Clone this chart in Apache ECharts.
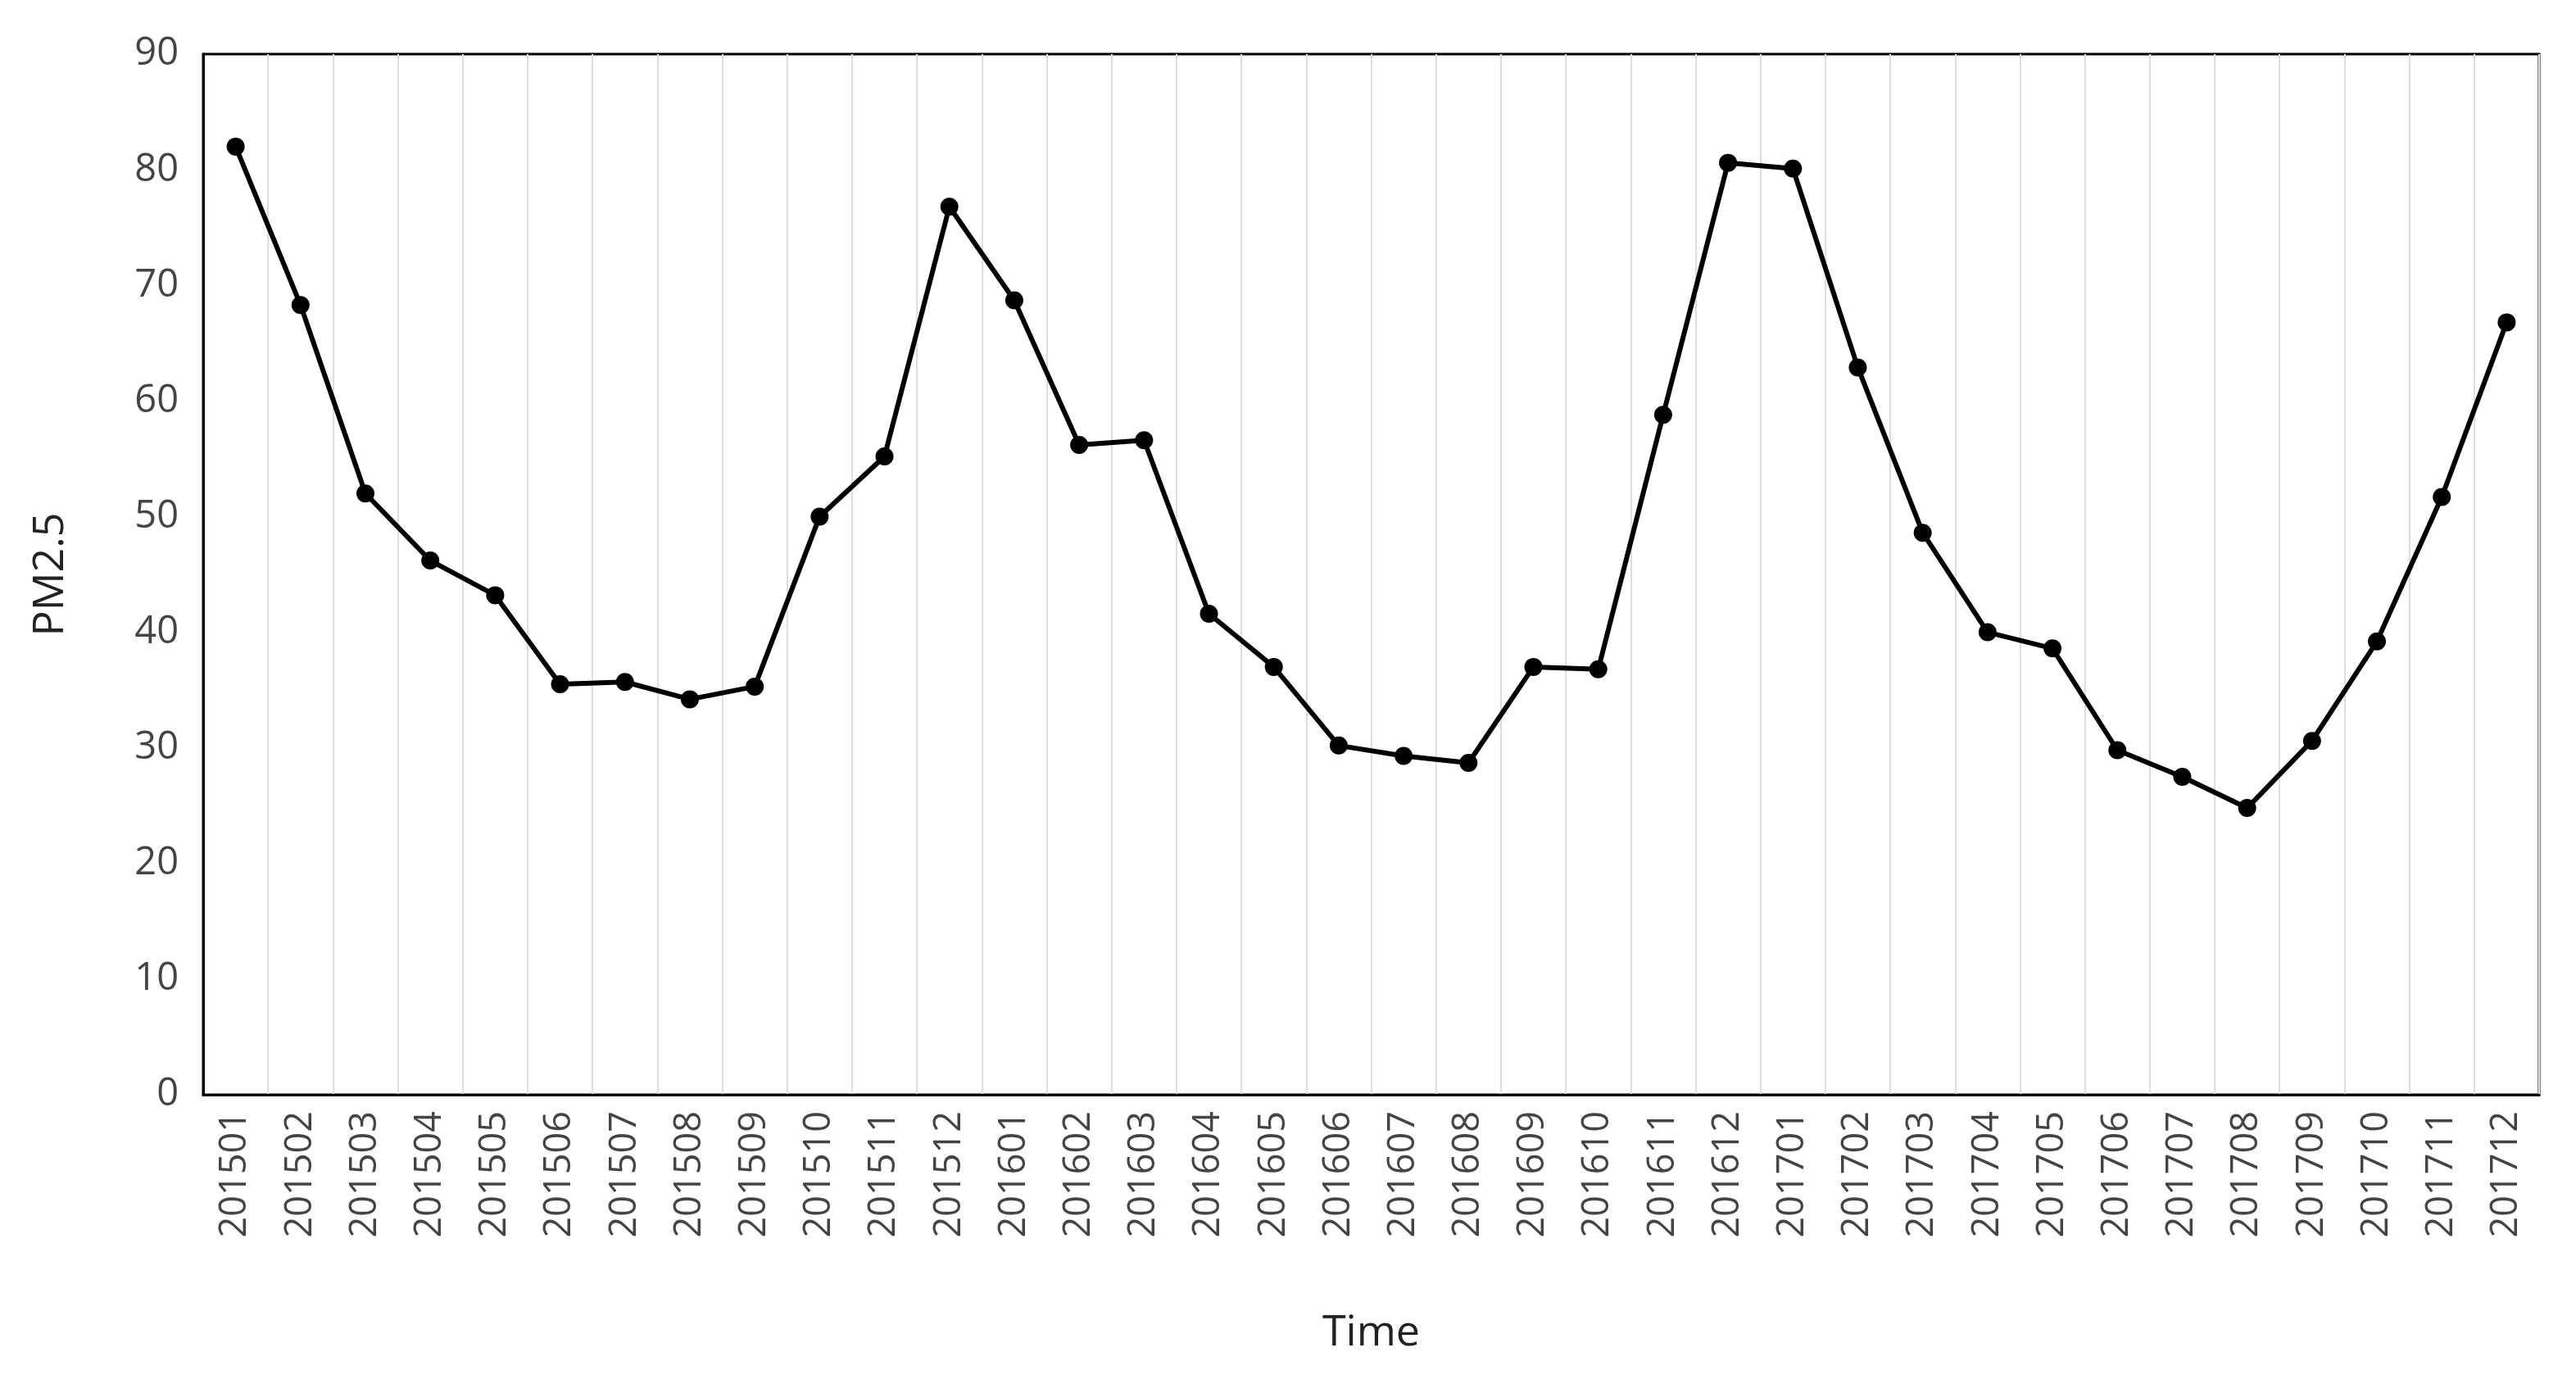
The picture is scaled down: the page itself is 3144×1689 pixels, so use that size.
<!DOCTYPE html>
<html><head><meta charset="utf-8">
<script src="https://cdn.jsdelivr.net/npm/echarts@6/dist/echarts.min.js"></script>
<style>html,body{margin:0;background:#fff}#c{width:3144px;height:1689px}</style>
</head><body><div id="c"></div>
<script>
const months = ['201501','201502','201503','201504','201505','201506','201507','201508','201509','201510','201511','201512',
  '201601','201602','201603','201604','201605','201606','201607','201608','201609','201610','201611','201612',
  '201701','201702','201703','201704','201705','201706','201707','201708','201709','201710','201711','201712'];
const pm25 = [82, 68.3, 52, 46.2, 43.2, 35.5, 35.7, 34.2, 35.3, 50, 55.2, 76.8,
  68.7, 56.2, 56.6, 41.6, 37, 30.2, 29.3, 28.7, 37, 36.8, 58.8, 80.6,
  80.1, 62.9, 48.6, 40, 38.6, 29.8, 27.5, 24.8, 30.6, 39.2, 51.7, 66.8];

const chart = echarts.init(document.getElementById('c'));
chart.setOption({
  animation: false,
  textStyle: { fontFamily: 'Open Sans' },
  grid: { left: 248, right: 45, top: 66, bottom: 353, show: true, borderColor: '#000', borderWidth: 3 },
  xAxis: {
    type: 'category', data: months, boundaryGap: true,
    name: 'Time', nameLocation: 'middle', nameGap: 265,
    nameTextStyle: { fontSize: 52, color: '#222' },
    axisLine: { lineStyle: { color: '#000', width: 3 } },
    axisTick: { show: false },
    axisLabel: { rotate: 90, fontSize: 45, color: '#444', margin: 20, interval: 0 },
    splitLine: { show: true, lineStyle: { color: '#ddd', width: 2 } }
  },
  yAxis: {
    type: 'value', min: 0, max: 90, interval: 10,
    name: 'PM2.5', nameLocation: 'middle', nameGap: 160,
    nameTextStyle: { fontSize: 52, color: '#222' },
    axisLine: { show: true, lineStyle: { color: '#000', width: 3 } },
    axisLabel: { fontSize: 47, color: '#444', margin: 30 },
    splitLine: { show: false }
  },
  series: [{
    type: 'line', data: pm25, symbol: 'circle', symbolSize: 22,
    itemStyle: { color: '#000' }, lineStyle: { color: '#000', width: 6 }
  }]
});
</script></body></html>
